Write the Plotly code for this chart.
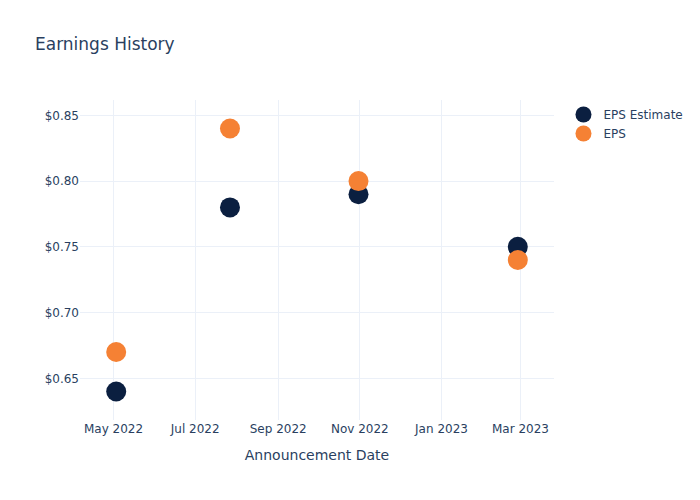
import plotly.graph_objects as go

dates = ["2022-05-03", "2022-07-27", "2022-10-31", "2023-02-27"]
eps_estimate = [0.64, 0.78, 0.79, 0.75]
eps_actual = [0.67, 0.84, 0.80, 0.74]

fig = go.Figure()
fig.add_trace(go.Scatter(x=dates, y=eps_estimate, mode="markers", name="EPS Estimate",
                         marker=dict(color="#0b1f40", size=20)))
fig.add_trace(go.Scatter(x=dates, y=eps_actual, mode="markers", name="EPS",
                         marker=dict(color="#f58134", size=20)))
fig.update_layout(
    template="plotly_white",
    width=700, height=500,
    font=dict(family="DejaVu Sans"),
    title=dict(text="Earnings History"),
    xaxis=dict(title=dict(text="Announcement Date"), tickformat="%b %Y", dtick="M2"),
    yaxis=dict(tickprefix="$", tickformat=".2f"),
)
fig.write_html("out.html")
